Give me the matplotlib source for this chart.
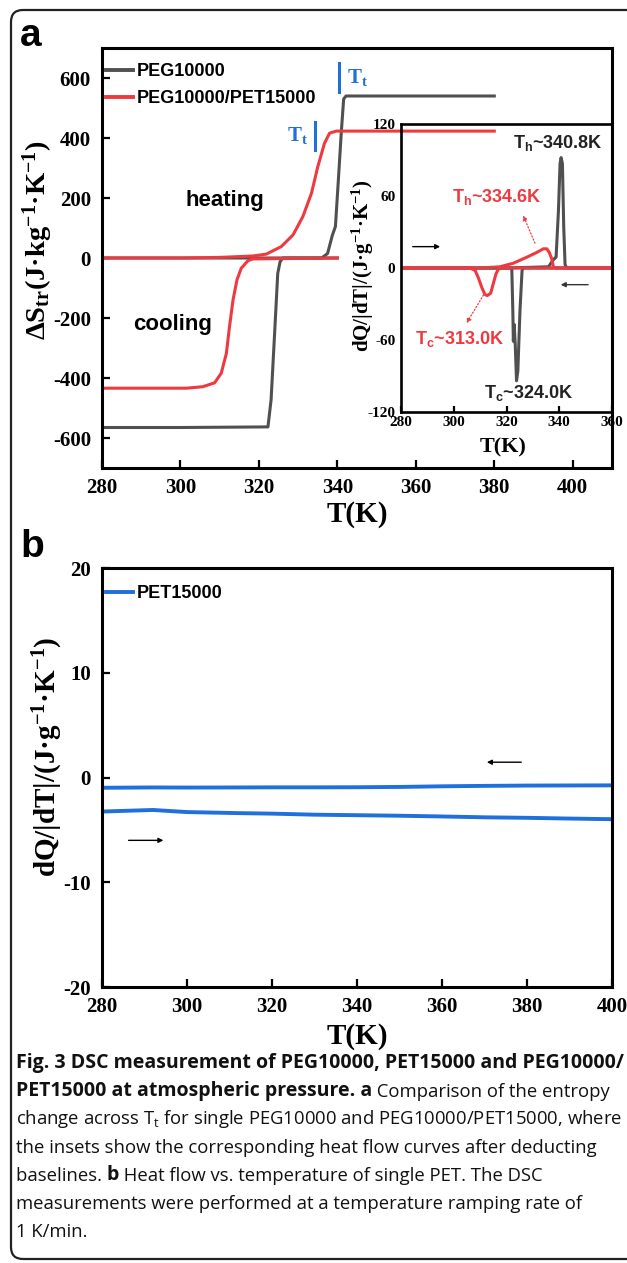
import numpy as np
import matplotlib.pyplot as plt
from matplotlib.patches import FancyBboxPatch
from matplotlib.transforms import IdentityTransform

plt.rcParams['axes.unicode_minus'] = False
plt.rcParams['mathtext.default'] = 'regular'

# ---------------- panel a : entropy change ----------------
# PEG10000
t_peg_h = [280, 300, 320, 336.0, 337.5, 338.7, 339.5, 340.2, 341.0, 341.6, 342.2, 360, 380]
s_peg_h = [0, 0, 0, 0, 15, 75, 105, 250, 420, 530, 540, 540, 540]
t_peg_c = [280, 300, 322.3, 323.1, 324.0, 324.8, 325.4, 326.1, 340]
s_peg_c = [-565, -565, -563, -473, -251, -51, -12, 0, 0]
# PEG10000/PET15000
t_mix_h = [280, 300, 310, 318.5, 321.9, 325.7, 328.7, 331.2, 333.4, 335.0, 336.7, 338.0, 339.7, 360, 380]
s_mix_h = [0, 0, 2, 6.7, 13, 38, 77, 138, 216, 304, 382, 416, 423, 423, 423]
t_mix_c = [280, 301.5, 305.7, 308.7, 310.4, 311.7, 312.5, 313.4, 314.4, 315.5, 317.2, 318.5, 340]
s_mix_c = [-434, -434, -429, -416, -384, -318, -229, -140, -73, -34, -9, -3, 0]

# ---------------- inset : heat flow ----------------
t_peg_dh = [280, 320, 335.9, 337.8, 338.8, 339.7, 340.3, 340.7, 341.2, 341.7, 342.2, 342.8, 360]
q_peg_dh = [0, 0, 1, 7, 9, 48, 87, 92, 87, 34, 3, 0, 0]
t_peg_dc = [280, 322.0, 322.4, 322.6, 322.9, 323.3, 323.8, 324.3, 325.1, 325.9, 326.3, 360]
q_peg_dc = [0, 0, -36, -61, -47, -63, -94, -86, -36, -2, 0, 0]
t_mix_dh = [280, 310, 317.5, 322.6, 327.7, 331.5, 334.0, 335.3, 336.2, 337.1, 337.8, 338.5, 360]
q_mix_dh = [0, 0, 1, 4, 9, 13, 16, 16, 13, 8, 1, 0, 0]
t_mix_dc = [280, 306.2, 308.1, 309.3, 310.6, 311.8, 312.7, 314.0, 315.0, 316.0, 316.9, 318, 360]
q_mix_dc = [0, 0, -2, -8, -16, -22, -23, -21, -13, -5, -1, 0, 0]

# ---------------- panel b : PET15000 ----------------
t_pet = [280, 292, 300, 312, 320, 330, 340, 350, 360, 370, 380, 390, 400]
q_pet_c = [-0.98, -0.95, -0.96, -0.95, -0.94, -0.94, -0.93, -0.9, -0.84, -0.8, -0.77, -0.76, -0.75]
q_pet_h = [-3.25, -3.1, -3.3, -3.4, -3.45, -3.55, -3.6, -3.65, -3.72, -3.8, -3.85, -3.92, -3.98]

labels_a = ['PEG10000', 'PEG10000/PET15000']
label_b = 'PET15000'

caption = [
    [("Fig. 3 DSC measurement of PEG10000, PET15000 and PEG10000/", True)],
    [("PET15000 at atmospheric pressure. a", True), (" Comparison of the entropy", False)],
    [("change across T$_\\mathregular{t}$ for single PEG10000 and PEG10000/PET15000, where", False)],
    [("the insets show the corresponding heat flow curves after deducting", False)],
    [("baselines. ", False), ("b", True), (" Heat flow vs. temperature of single PET. The DSC", False)],
    [("measurements were performed at a temperature ramping rate of", False)],
    [("1 K/min.", False)],
]

GRAY = '#505050'
RED = '#ee3a3f'
BLUE = '#1f6fdc'
SERIF = 'Liberation Serif'
SANS = 'Liberation Sans'

W, H = 627, 1263
fig = plt.figure(figsize=(W / 100, H / 100), dpi=100)


def box(l, t, r, b):
    return [l / W, 1 - b / H, (r - l) / W, (b - t) / H]


def fx(px):
    return px / W


def fy(py):
    return 1 - py / H


def style_axes(a, lw=2.2, fs=15, tl=5.8, pad=8):
    for sp in a.spines.values():
        sp.set_linewidth(lw)
    a.tick_params(direction='in', length=tl, width=1.6, top=False, right=False, pad=pad)
    for lab in a.get_xticklabels() + a.get_yticklabels():
        lab.set_fontfamily(SERIF)
        lab.set_fontweight('bold')
        lab.set_fontsize(fs)


# outer rounded frame
frame = FancyBboxPatch((11, 4), 700, H - 14, boxstyle='round,pad=0,rounding_size=12',
                       transform=IdentityTransform(), fill=False, lw=1.6, ec='#222222')
fig.add_artist(frame)

# ================= panel a =================
ax = fig.add_axes(box(102, 48, 612, 468))
ax.plot(t_peg_h, s_peg_h, color=GRAY, lw=2.2)
ax.plot(t_peg_c, s_peg_c, color=GRAY, lw=2.2)
ax.plot(t_mix_h, s_mix_h, color=RED, lw=2.2)
ax.plot(t_mix_c, s_mix_c, color=RED, lw=2.2)
ax.set_xlim(280, 410)
ax.set_ylim(-700, 700)
ax.set_xticks([280, 300, 320, 340, 360, 380, 400])
ax.set_yticks([-600, -400, -200, 0, 200, 400, 600])
style_axes(ax)
ax.tick_params(axis='x', pad=7)

leg = ax.legend(ax.lines[::2], labels_a, loc='upper left', bbox_to_anchor=(0.0, 0.972),
                frameon=False, handlelength=1.5, handletextpad=0.25, labelspacing=0.55,
                borderpad=0.2, borderaxespad=0.0,
                prop={'family': SANS, 'weight': 'bold', 'size': 13})
for h in leg.get_lines():
    h.set_linewidth(2.8)

ax.text(311.3, 193, 'heating', family=SANS, weight='bold', fontsize=16, ha='center', va='center')
ax.text(298, -223, 'cooling', family=SANS, weight='bold', fontsize=16, ha='center', va='center')

# T_t markers
ax.plot([340.5, 340.5], [553, 650], color=BLUE, lw=2.2)
ax.text(342.5, 600, 'T$_\\mathregular{t}$', family=SERIF, weight='bold', fontsize=15,
        color=BLUE, ha='left', va='center')
ax.plot([334.4, 334.4], [360, 453], color=BLUE, lw=2.2)
ax.text(332.6, 408, 'T$_\\mathregular{t}$', family=SERIF, weight='bold', fontsize=15,
        color=BLUE, ha='right', va='center')

fig.text(fx(31), fy(36), 'a', family=SANS, weight='bold', fontsize=28, ha='center', va='center')
fig.text(fx(38), fy(240), 'ΔS$_\\mathregular{tr}$(J·kg$^\\mathregular{-1}$·K$^\\mathregular{-1}$)',
         family=SERIF, weight='bold', fontsize=20.5, rotation=90, ha='center', va='center')
fig.text(fx(357), fy(515), 'T(K)', family=SERIF, weight='bold', fontsize=21, ha='center', va='center')

# ================= inset =================
axi = fig.add_axes(box(401, 124, 612, 412))
axi.patch.set_alpha(0)
axi.plot(t_peg_dh, q_peg_dh, color=GRAY, lw=2.2)
axi.plot(t_peg_dc, q_peg_dc, color=GRAY, lw=2.2)
axi.plot(t_mix_dh, q_mix_dh, color=RED, lw=2.2)
axi.plot(t_mix_dc, q_mix_dc, color=RED, lw=2.2)
axi.set_xlim(280, 360)
axi.set_ylim(-120, 120)
axi.set_xticks([280, 300, 320, 340, 360])
axi.set_yticks([-120, -60, 0, 60, 120])
style_axes(axi, lw=1.9, fs=11, tl=4, pad=3)
axi.tick_params(axis='y', length=0, pad=4)

axi.text(322.5, 104, 'T$_\\mathregular{h}$~340.8K', family=SANS, weight='bold', fontsize=13,
         color='#222222', ha='left', va='center')
axi.text(299.3, 59, 'T$_\\mathregular{h}$~334.6K', family=SANS, weight='bold', fontsize=13,
         color=RED, ha='left', va='center')
axi.text(285.3, -59, 'T$_\\mathregular{c}$~313.0K', family=SANS, weight='bold', fontsize=13,
         color=RED, ha='left', va='center')
axi.text(311.5, -104, 'T$_\\mathregular{c}$~324.0K', family=SANS, weight='bold', fontsize=13,
         color='#222222', ha='left', va='center')
axi.annotate('', xy=(325.9, 46), xytext=(331.2, 18.6),
             arrowprops=dict(arrowstyle='-|>', linestyle=':', lw=0.9, color=RED, mutation_scale=7))
axi.annotate('', xy=(304.3, -48), xytext=(311.8, -20.6),
             arrowprops=dict(arrowstyle='-|>', linestyle=':', lw=0.9, color=RED, mutation_scale=7))
axi.annotate('', xy=(295.9, 17.8), xytext=(283.4, 17.8),
             arrowprops=dict(arrowstyle='-|>', lw=1.0, color='black', mutation_scale=7))
axi.annotate('', xy=(339.5, -13.9), xytext=(352.0, -13.9),
             arrowprops=dict(arrowstyle='-|>', lw=1.0, color='#333333', mutation_scale=7))

fig.text(fx(363), fy(266), 'dQ/|dT|/(J·g$^\\mathregular{-1}$·K$^\\mathregular{-1}$)',
         family=SERIF, weight='bold', fontsize=15, rotation=90, ha='center', va='center')
fig.text(fx(503), fy(447), 'T(K)', family=SERIF, weight='bold', fontsize=16, ha='center', va='center')

# ================= panel b =================
axb = fig.add_axes(box(102, 568, 612, 987))
lb, = axb.plot(t_pet, q_pet_c, color=BLUE, lw=2.8)
axb.plot(t_pet, q_pet_h, color=BLUE, lw=2.8)
axb.set_xlim(280, 400)
axb.set_ylim(-20, 20)
axb.set_xticks([280, 300, 320, 340, 360, 380, 400])
axb.set_yticks([-20, -10, 0, 10, 20])
style_axes(axb)
axb.tick_params(axis='x', pad=7)
axb.legend([lb], [label_b], loc='upper left', bbox_to_anchor=(0.0, 0.967),
           frameon=False, handlelength=1.5, handletextpad=0.25, borderpad=0.2, borderaxespad=0.0,
           prop={'family': SANS, 'weight': 'bold', 'size': 13})
axb.annotate('', xy=(369.9, 1.46), xytext=(379.3, 1.46),
             arrowprops=dict(arrowstyle='-|>', lw=1.0, color='black', mutation_scale=7))
axb.annotate('', xy=(295.1, -6.0), xytext=(285.6, -6.0),
             arrowprops=dict(arrowstyle='-|>', lw=1.0, color='black', mutation_scale=7))

fig.text(fx(32), fy(547), 'b', family=SANS, weight='bold', fontsize=28, ha='center', va='center')
fig.text(fx(48), fy(757), 'dQ/|dT|/(J·g$^\\mathregular{-1}$·K$^\\mathregular{-1}$)',
         family=SERIF, weight='bold', fontsize=21, rotation=90, ha='center', va='center')
fig.text(fx(357), fy(1037), 'T(K)', family=SERIF, weight='bold', fontsize=21, ha='center', va='center')

# ================= caption =================
cap = fig.add_axes([0, 0, 1, 1])
cap.set_axis_off()
for i, line in enumerate(caption):
    y = fy(1062 + 28.2 * i + 6)
    prev = None
    for txt, bold in line:
        w = 'bold' if bold else 'normal'
        fs = 14 if bold else 13.3
        if prev is None:
            prev = cap.text(fx(16), y, txt, family='Open Sans', weight=w, fontsize=fs,
                            ha='left', va='baseline', color='#111111')
        else:
            prev = cap.annotate(txt, xy=(1, 0), xycoords=prev, ha='left', va='bottom',
                                family='Open Sans', weight=w, fontsize=fs, color='#111111')

fig.savefig('out.png', dpi=100)
